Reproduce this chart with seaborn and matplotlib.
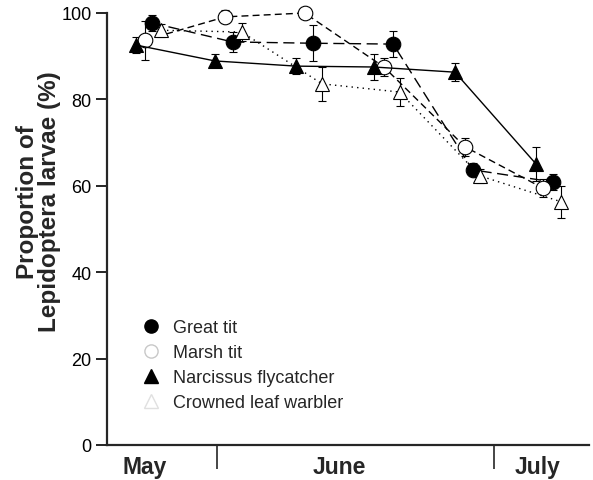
import pandas as pd
import numpy as np
import seaborn as sns
import matplotlib.pyplot as plt
from matplotlib.lines import Line2D

# x = days counted from 1 May (1 June = 31, 1 July = 61)
great_x = [24.0, 32.7, 41.4, 50.1, 58.7, 67.4]
great_y = [97.7, 93.3, 93.0, 92.8, 63.7, 60.9]
great_se = [1.8, 2.3, 4.2, 3.0, 1.5, 1.8]

marsh_x = [23.2, 31.9, 40.5, 49.1, 57.9, 66.3]
marsh_y = [93.7, 99.1, 100.0, 87.5, 69.0, 59.5]
marsh_se = [4.5, 1.5, 0.8, 2.0, 2.0, 2.0]

narc_x = [22.2, 30.8, 39.6, 48.0, 56.8, 65.6]
narc_y = [92.6, 88.9, 87.7, 87.5, 86.3, 65.0]
narc_se = [1.8, 1.5, 1.8, 3.0, 2.1, 4.0]

crown_x = [25.0, 33.7, 42.4, 50.8, 59.5, 68.3]
crown_y = [96.0, 95.6, 83.6, 81.7, 62.3, 56.3]
crown_se = [1.5, 2.0, 4.0, 3.3, 1.7, 3.7]

species = ['Great tit', 'Marsh tit', 'Narcissus flycatcher', 'Crowned leaf warbler']
months = ['May', 'June', 'July']
month_pos = [23.2, 44.3, 65.7]
month_edges = [31, 61]

sns.set_style('ticks')
plt.rcParams['font.family'] = ['Liberation Sans', 'DejaVu Sans']

fig = plt.figure(figsize=(5.93, 4.81), dpi=100)
ax = fig.add_axes([0.1804, 0.0728, 0.8126, 0.8981])

series = [
    (great_x, great_y, great_se, 'o', 'black', (0, (8, 4))),
    (marsh_x, marsh_y, marsh_se, 'o', 'white', (0, (5, 3))),
    (narc_x, narc_y, narc_se, '^', 'black', '-'),
    (crown_x, crown_y, crown_se, '^', 'white', (0, (1, 3))),
]

for name, (xs, ys, se, mk, fc, ls) in zip(species, series):
    df = pd.DataFrame({'day': xs, 'prop': ys})
    ax.errorbar(xs, ys, yerr=se, fmt='none', ecolor='black', elinewidth=0.8,
                capsize=3, capthick=0.8, zorder=2, clip_on=False)
    sns.lineplot(data=df, x='day', y='prop', ax=ax, color='black', linewidth=1,
                 linestyle=ls, marker=mk, markersize=10.5, markerfacecolor=fc,
                 markeredgecolor='black', markeredgewidth=0.8, clip_on=False,
                 legend=False, zorder=3)

ax.set_xlim(19.1, 71.3)
ax.set_ylim(0, 100)
ax.set_yticks([0, 20, 40, 60, 80, 100])
ax.tick_params(axis='y', labelsize=13, length=8, width=1.2, colors='black', pad=3)
ax.set_xticks(month_edges)
ax.set_xticklabels(['', ''])
ax.tick_params(axis='x', which='major', length=17, width=1.2, direction='out')
ax.set_xticks(month_pos, minor=True)
ax.set_xticklabels(months, minor=True, fontsize=16.5, fontweight='bold')
ax.tick_params(axis='x', which='minor', length=0, pad=7)
ax.set_xlabel('')
ax.set_ylabel('Proportion of\nLepidoptera larvae (%)', fontsize=17.5,
              fontweight='bold', linespacing=0.92)
ax.yaxis.set_label_coords(-0.096, 0.565)
for s in ['top', 'right']:
    ax.spines[s].set_visible(False)
for s in ['left', 'bottom']:
    ax.spines[s].set_linewidth(1.6)

handles = [
    Line2D([], [], linestyle='none', marker='o', markersize=9.5, markerfacecolor='black', markeredgecolor='black'),
    Line2D([], [], linestyle='none', marker='o', markersize=9.5, markerfacecolor='white', markeredgecolor='#c8c8c8'),
    Line2D([], [], linestyle='none', marker='^', markersize=9.5, markerfacecolor='black', markeredgecolor='black'),
    Line2D([], [], linestyle='none', marker='^', markersize=9.5, markerfacecolor='white', markeredgecolor='#e0e0e0'),
]
ax.legend(handles, species, loc='upper left', bbox_to_anchor=(0.072, 0.292), frameon=False,
          fontsize=13, handlelength=1.0, handletextpad=0.75, labelspacing=0.45, borderpad=0,
          borderaxespad=0)

fig.savefig('out.png', dpi=100)
